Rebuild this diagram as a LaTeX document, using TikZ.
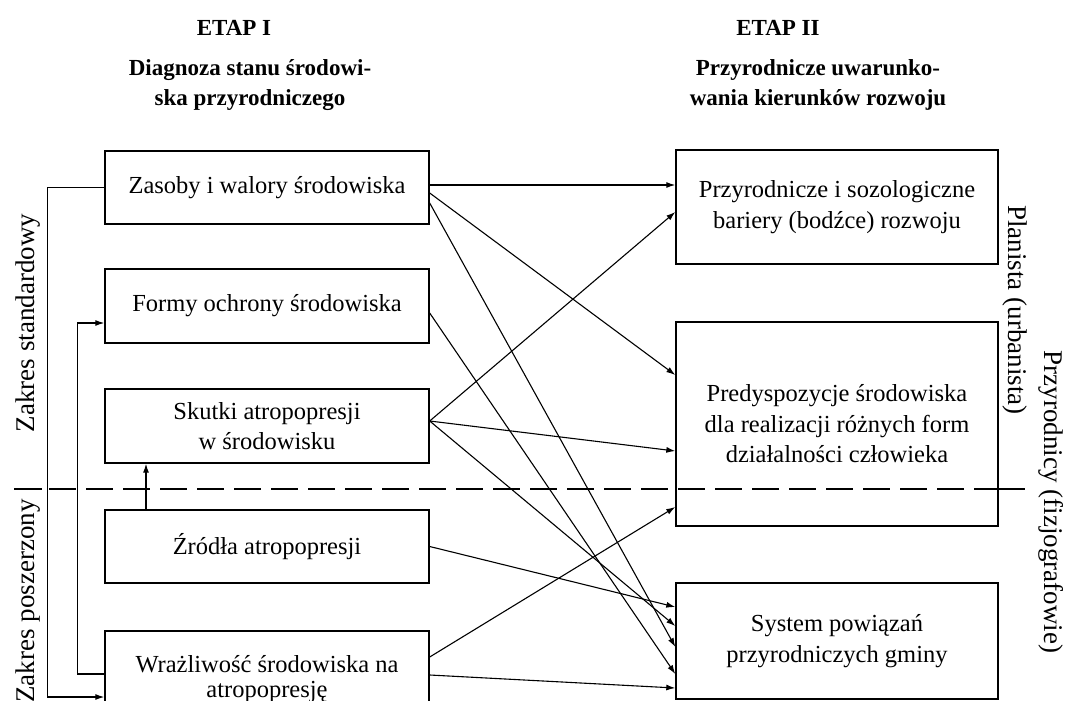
\documentclass[tikz,border=0pt]{standalone}
\usepackage{fontspec}
\setmainfont{Liberation Serif}
\usetikzlibrary{arrows.meta}
\tikzset{
  box/.style={draw, line width=1.4pt, align=center, inner sep=2pt,
    font=\fontsize{24.5}{30.5}\selectfont},
  lbox/.style={box, minimum width=324pt},
  rbox/.style={box, minimum width=322pt},
  conn/.style={line width=1.1pt, -{Latex[length=9pt,width=6pt]}},
  title/.style={font=\fontsize{23}{30}\selectfont\bfseries, align=center},
  side/.style={font=\fontsize{27}{30}\selectfont},
  sep/.style={line width=2pt, dash pattern=on 27pt off 10pt},
  sepsolid/.style={line width=2pt}
}
\begin{document}
\begin{tikzpicture}[x=1pt,y=-1pt]
\useasboundingbox (0,0) rectangle (1065,701);
\clip (0,0) rectangle (1065,701);

% titles
\node[title] (t1) at (234,28) {ETAP I};
\node[title] (t2) at (250,85) {Diagnoza stanu środowi-\\ska przyrodniczego};
\node[title] (t3) at (778,28) {ETAP II};
\node[title] (t4) at (818,85) {Przyrodnicze uwarunko-\\wania kierunków rozwoju};

% left boxes
\node[lbox, minimum height=73pt] (A) at (267,187.5) {Zasoby i walory środowiska};
\node[lbox, minimum height=74pt] (B) at (267,306) {Formy ochrony środowiska};
\node[lbox, minimum height=74pt] (C) at (267,426) {Skutki atropopresji\\w środowisku};
\node[lbox, minimum height=73pt] (D) at (267,546.5) {Źródła atropopresji};
\node[lbox, minimum height=96pt, font=\fontsize{24.5}{25}\selectfont] (E) at (267,679) {Wrażliwość środowiska na\\atropopresję};

% right boxes
\node[rbox, minimum height=114pt] (P) at (837,207) {Przyrodnicze i sozologiczne\\bariery (bodźce) rozwoju};
\node[rbox, minimum height=204pt] (Q) at (837,424) {Predyspozycje środowiska\\dla realizacji różnych form\\działalności człowieka};
\node[rbox, minimum height=116pt] (R) at (837,641) {System powiązań\\przyrodniczych gminy};

% side labels
\node[side, rotate=90] (s1) at (28,323) {Zakres standardowy};
\node[side, rotate=90] (s2) at (28,601) {Zakres poszerzony};
\node[side, rotate=-90] (s3) at (1015,310) {Planista (urbanista)};
\node[side, rotate=-90] (s4) at (1051,502) {Przyrodnicy (fizjografowie)};

% dashed separator
\coordinate (dL) at (49,489);
\coordinate (dR) at (1025,489);
\coordinate (tk1) at (14,489);
\coordinate (tk2) at (42,489);
\draw[sep] (dL) -- (Q.east |- dL);
\draw[sepsolid] (Q.east |- dL) -- (dR);
\draw[sepsolid] (tk1) -- (tk2);

% left-side connectors
\draw[conn] (A.west) -- ++(-57,0) |- ([yshift=-18pt]E.west);
\draw[conn] ([yshift=5pt]E.west) -- ++(-27,0) |- ([yshift=-17pt]B.west);
\draw[conn] ([xshift=-121pt]D.north) -- ([xshift=-121pt]C.south);

% cross connectors
\draw[conn] ([yshift=2.5pt]A.east) -- ([yshift=22pt]P.west);
\draw[conn] ([yshift=-5.5pt]A.east) -- ([yshift=49pt]Q.west);
\draw[conn] ([yshift=-15.5pt]A.east) -- ([yshift=-6pt]R.west);
\draw[conn] ([yshift=-7pt]B.east) -- ([yshift=-33pt]R.west);
\draw[conn] ([yshift=5pt]C.east) -- ([yshift=-5pt]P.west);
\draw[conn] ([yshift=5pt]C.east) -- ([yshift=-27pt]Q.west);
\draw[conn] ([yshift=5pt]C.east) -- ([yshift=15pt]R.west);
\draw[conn] (D.east) -- ([yshift=34pt]R.west);
\draw[conn] ([yshift=22pt]E.east) -- ([yshift=-83pt]Q.west);
\draw[conn] ([yshift=4pt]E.east) -- ([yshift=-47pt]R.west);
\end{tikzpicture}
\end{document}
